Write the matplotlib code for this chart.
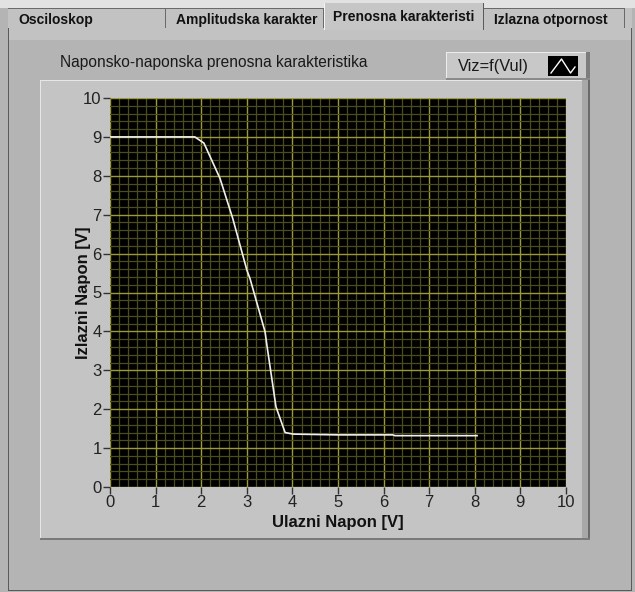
import matplotlib
matplotlib.use("Agg")
import matplotlib.pyplot as plt
from matplotlib.patches import Rectangle
from matplotlib.ticker import MultipleLocator

plt.rcParams['font.family'] = ['Liberation Sans', 'DejaVu Sans']

# data
vul = [0.0, 0.5, 1.0, 1.5, 1.86, 2.06, 2.41, 2.69, 3.0, 3.07, 3.4, 3.44,
       3.64, 3.84, 4.02, 5.0, 6.2, 6.25, 7.0, 8.05]
viz = [9.0, 9.0, 9.0, 9.0, 9.0, 8.84, 7.94, 6.91, 5.58, 5.36, 3.99, 3.65,
       2.06, 1.40, 1.36, 1.34, 1.34, 1.32, 1.32, 1.32]

tab_names = ['Osciloskop', 'Amplitudska karakter', 'Prenosna karakteristi', 'Izlazna otpornost']
tab_edges = [8, 166, 324, 484, 625]
selected_tab = 2

W, H = 635, 592
fig = plt.figure(figsize=(W / 100, H / 100), dpi=100)
fig.patch.set_facecolor('#b4b4b4')


def px_rect(x0, y0, x1, y1, **kw):
    # rectangle in pixel coords (origin top-left), kept under the axes
    r = Rectangle((x0 / W, 1 - y1 / H), (x1 - x0) / W, (y1 - y0) / H,
                  transform=fig.transFigure, zorder=-5, **kw)
    fig.patches.append(r)
    return r


def px_text(x, y, s, **kw):
    return fig.text(x / W, 1 - y / H, s, **kw)


# ---------------- tab strip ----------------
px_rect(0, 0, W, 8, facecolor='#e2e2e2', edgecolor='none')
px_rect(8, 8, 632, 40, facecolor='#c2c2c2', edgecolor='none')
for i, name in enumerate(tab_names):
    x0, x1 = tab_edges[i], tab_edges[i + 1]
    if i == selected_tab:
        px_rect(x0, 3, x1, 30, facecolor='#c6c6c6', edgecolor='none')
        px_rect(x0, 3, x0 + 1, 30, facecolor='#f4f4f4', edgecolor='none')
        px_rect(x1 - 1, 3, x1, 30, facecolor='#5a5a5a', edgecolor='none')
        px_text(x0 + 9, 17, name, fontsize=10, fontweight='bold', color='#111111', va='center')
    else:
        px_rect(x0, 8, x1, 9, facecolor='#6a6a6a', edgecolor='none')
        px_rect(x1 - 1, 9, x1, 28, facecolor='#6a6a6a', edgecolor='none')
        px_text(x0 + 10, 20, name, fontsize=10, fontweight='bold', color='#111111', va='center')

# panel border
px_rect(8, 28, 9, 591, facecolor='#5a5a5a', edgecolor='none')
px_rect(8, 590, 632, 591, facecolor='#5a5a5a', edgecolor='none')
px_rect(631, 28, 632, 591, facecolor='#5a5a5a', edgecolor='none')

# ---------------- graph frame ----------------
px_rect(40, 80, 588, 538, facecolor='#c4c4c4', edgecolor='none')
px_rect(40, 80, 588, 81, facecolor='#e6e6e6', edgecolor='none')
px_rect(40, 80, 41, 538, facecolor='#e6e6e6', edgecolor='none')
px_rect(582, 80, 588, 538, facecolor='#a8a8a8', edgecolor='none')
px_rect(588, 80, 590, 540, facecolor='#6a6a6a', edgecolor='none')
px_rect(40, 538, 590, 540, facecolor='#7a7a7a', edgecolor='none')

px_text(60, 62, 'Naponsko-naponska prenosna karakteristika', fontsize=11.2,
        color='#1a1a1a', va='center')

# legend box
px_rect(446, 52, 590, 80, facecolor='#c8c8c8', edgecolor='none')
px_rect(446, 52, 590, 53, facecolor='#ececec', edgecolor='none')
px_rect(446, 52, 447, 80, facecolor='#ececec', edgecolor='none')
px_rect(586, 52, 590, 80, facecolor='#7c7c7c', edgecolor='none')
px_rect(446, 78, 590, 80, facecolor='#8a8a8a', edgecolor='none')
px_text(458, 66, 'Viz=f(Vul)', fontsize=11.8, color='#1a1a1a', va='center')
icon = fig.add_axes([548 / W, 1 - 76 / H, 30 / W, 20 / H])
icon.set_facecolor('black')
icon.plot([0.1, 0.45, 0.75, 0.9], [0.15, 0.85, 0.15, 0.45], color='white', lw=1)
icon.set_xlim(0, 1)
icon.set_ylim(0, 1)
icon.set_xticks([])
icon.set_yticks([])
for s in icon.spines.values():
    s.set_visible(False)

# ---------------- plot area ----------------
ax = fig.add_axes([110 / W, 1 - 487 / H, 456 / W, 389 / H])
ax.set_facecolor('black')
ax.set_xlim(0, 10)
ax.set_ylim(0, 10)
ax.xaxis.set_major_locator(MultipleLocator(1))
ax.yaxis.set_major_locator(MultipleLocator(1))
ax.xaxis.set_minor_locator(MultipleLocator(0.2))
ax.yaxis.set_minor_locator(MultipleLocator(0.2))
ax.grid(which='minor', color='#4c4c1e', lw=0.9)
ax.grid(which='major', color='#9a9a36', lw=1.0)
ax.set_axisbelow(True)

ax.plot(vul, viz, color='#f0f0f0', lw=1.2)

ax.tick_params(which='minor', length=0)
ax.tick_params(which='major', direction='out', length=5, width=1,
               color='#333333', labelsize=12, labelcolor='#222222', pad=1)
for s in ax.spines.values():
    s.set_visible(False)

ax.set_xlabel('Ulazni Napon [V]', fontsize=12, fontweight='bold', color='#111111', labelpad=3)
ax.set_ylabel('Izlazni Napon [V]', fontsize=12, fontweight='bold', color='#111111')
ax.yaxis.set_label_coords(-0.041, 0.5)

plt.savefig('out.png', dpi=100)
